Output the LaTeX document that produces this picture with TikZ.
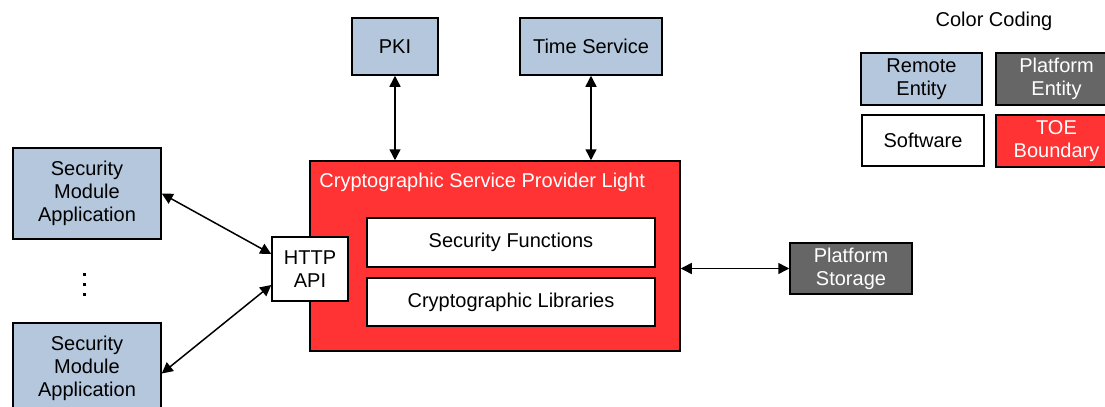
\documentclass[tikz,border=0pt]{standalone}
\usepackage{fontspec}
\setmainfont{Liberation Sans}
\usepackage{tikz}
\usetikzlibrary{arrows.meta}
\usepackage{xcolor}
\definecolor{RemoteBlue}{HTML}{B4C7DC}
\definecolor{PlatformGray}{HTML}{666666}
\definecolor{ToeRed}{HTML}{FF3333}

\begin{document}
\begin{tikzpicture}[x=0.5pt,y=-0.5pt,
    every node/.style={font=\fontsize{10}{11.5}\selectfont,align=center,inner sep=0pt},
    entity/.style={draw=black,line width=0.75pt},
    remote/.style={entity,fill=RemoteBlue},
    platform/.style={entity,fill=PlatformGray,text=white},
    software/.style={entity,fill=white},
    toe/.style={entity,fill=ToeRed,text=white},
    link/.style={line width=0.75pt,{Triangle[length=5.5pt,width=5.5pt]}-{Triangle[length=5.5pt,width=5.5pt]}}]
    \useasboundingbox (0,0) rectangle (1105,407);
    \clip (0,0) rectangle (1105,407);

    % remote entities
    \node[remote,minimum width=43pt,minimum height=28.5pt] (pki) at (395,46.5) {PKI};
    \node[remote,minimum width=71pt,minimum height=28.5pt] (timesvc) at (591,46.5) {Time Service};
    \node[remote,minimum width=74pt,minimum height=45.5pt] (smaTop) at (87,193.5) {Security\\Module\\Application};
    \node[remote,minimum width=74pt,minimum height=45.5pt] (smaBottom) at (87,368.5) {Security\\Module\\Application};
    \foreach \y in {274,284,294}
        \fill (82.5,\y-1.5) rectangle (86,\y+1.5);

    % TOE
    \node[toe,minimum width=185pt,minimum height=95pt] (cspl) at (495,256) {};
    \node[text=white,anchor=west] (csplTitle) at (319,182) {Cryptographic Service Provider Light};
    \node[software,minimum width=144pt,minimum height=24.5pt] (secfunc) at (511,242.5) {Security Functions};
    \node[software,minimum width=144pt,minimum height=24pt] (cryptlib) at (511,302) {Cryptographic Libraries};
    \node[software,minimum width=38pt,minimum height=32pt] (httpapi) at (310,269) {HTTP\\API};

    % platform
    \node[platform,minimum width=61pt,minimum height=25.5pt] (storage) at (851,268.5) {Platform\\Storage};

    % connections
    \draw[link] (pki.south) -- (pki.south |- cspl.north);
    \draw[link] (timesvc.south) -- (timesvc.south |- cspl.north);
    \draw[link] (cspl.east |- storage.west) -- (storage.west);
    \draw[link] (smaTop.east) -- ([yshift=7.5pt]httpapi.west);
    \draw[link] ([yshift=-2.5pt]smaBottom.east) -- ([yshift=-8pt]httpapi.west);

    % legend
    \node (legendTitle) at (994,21) {Color Coding};
    \node[remote,minimum width=60.5pt,minimum height=26pt] (legRemote) at (921.5,79) {Remote\\Entity};
    \node[platform,minimum width=60.5pt,minimum height=26pt] (legPlatform) at (1056.5,79) {Platform\\Entity};
    \node[software,minimum width=61pt,minimum height=25.5pt] (legSoftware) at (923,140.5) {Software};
    \node[toe,minimum width=60.5pt,minimum height=26pt] (legToe) at (1056.5,141) {TOE\\Boundary};
\end{tikzpicture}
\end{document}
